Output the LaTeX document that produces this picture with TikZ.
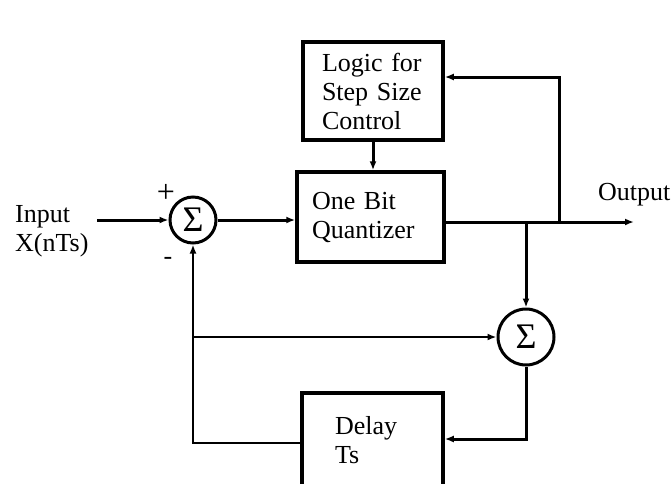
\documentclass[tikz,border=0pt]{standalone}
\usepackage{fontspec}
\setmainfont{Liberation Serif}
\usetikzlibrary{arrows.meta}
\begin{document}
\begin{tikzpicture}[x=1pt,y=-1pt,
  blk/.style={draw,line width=3.5pt,align=left,font=\fontsize{26}{29}\selectfont,inner ysep=0pt},
  sumc/.style={draw,circle,line width=3pt,inner sep=0pt,font=\fontsize{36}{36}\selectfont},
  wire/.style={line width=3pt},
  thinwire/.style={line width=2.2pt},
  arr/.style={-{Latex[length=9pt,width=7pt]}},
  lbl/.style={font=\fontsize{26}{29}\selectfont,align=left,inner sep=0pt}
]
\useasboundingbox (0,0) rectangle (672,483);
\clip (0,0) rectangle (672,483);
\fill[white] (0,0) rectangle (672,483);

% blocks
\node[blk,minimum width=140,minimum height=98,text width=102,inner xsep=19] (logic) at (373,91) {Logic for\\Step Size\\Control};
\node[blk,minimum width=147,minimum height=90,text width=117,inner xsep=15] (quant) at (370.5,217) {One Bit\\Quantizer};
\node[blk,minimum width=141,minimum height=94,text width=75,inner xsep=33] (delay) at (372.5,440) {Delay\\Ts};

% summers
\node[sumc,minimum size=46] (sum1) at (193,220) {Σ};
\node[sumc,minimum size=56] (sum2) at (526,337) {Σ};

% labels
\node[lbl,anchor=west] (inp) at (15,231) {Input\\X(nTs)};
\node[lbl,anchor=west] (outl) at (598,195) {Output};
\node[lbl,font=\fontsize{32}{32}\selectfont] (plus) at (166,193) {+};
\node[lbl] (minus) at (168,261) {-};

% coordinates
\coordinate (inA) at (97,220);
\coordinate (out) at (634,222);
\coordinate (j1) at (526,222);
\coordinate (j2) at (559,222);
\coordinate (j3) at (559,77);
\coordinate (qo) at (444,222);
\coordinate (d2) at (526,439);
\coordinate (d1) at (193,443);
\coordinate (m1) at (193,337);

% connectors
\draw[wire,arr] (inA) -- (sum1.west);
\draw[wire,arr] (sum1.east) -- (quant.west |- sum1.east);
\draw[wire,arr] (qo) -- (out);
\draw[wire,arr,line join=miter] (j2) -- (j3) -- (logic.east |- j3);
\draw[wire,arr] (logic.south) -- (logic.south |- quant.north);
\draw[wire,arr] (j1) -- (sum2.north);
\draw[wire,arr] (sum2.south) -- (d2) -- (delay.east |- d2);
\draw[thinwire,arr] (delay.west |- d1) -- (d1) -- (sum1.south);
\draw[thinwire,arr] (m1) -- (sum2.west);
\end{tikzpicture}
\end{document}
